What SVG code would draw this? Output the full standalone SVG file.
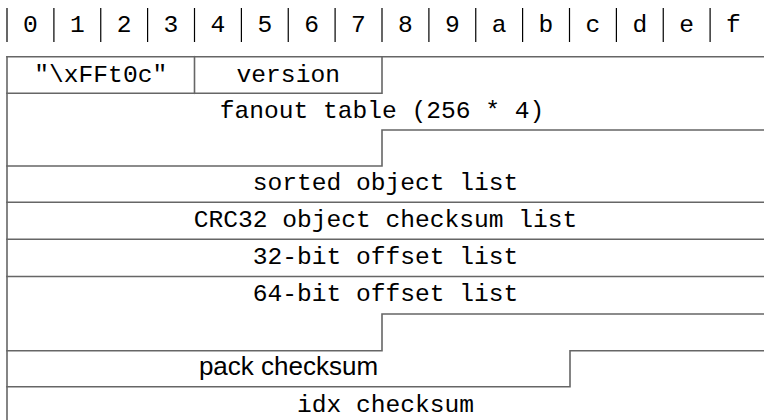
<svg xmlns="http://www.w3.org/2000/svg" width="764" height="420" viewBox="0 0 764 420">
<style>
.hb{stroke:#000;stroke-width:1.2;fill:none}
.ln{stroke:#666;stroke-width:1.6;fill:none;stroke-linecap:square}
.tt{font-family:"Liberation Mono","DejaVu Sans Mono",monospace;font-size:24.6px;fill:#000;text-anchor:middle}
.ss{font-family:"Liberation Sans","DejaVu Sans",sans-serif;font-size:26px;fill:#000;text-anchor:middle}
</style>
<rect width="764" height="420" fill="#fff"/>
<g id="header">
  <g class="hb">
    <line x1="7" y1="8" x2="7" y2="42"/>
    <line x1="53.9" y1="8" x2="53.9" y2="42"/>
    <line x1="100.75" y1="8" x2="100.75" y2="42"/>
    <line x1="147.6" y1="8" x2="147.6" y2="42"/>
    <line x1="194.5" y1="8" x2="194.5" y2="42"/>
    <line x1="241.4" y1="8" x2="241.4" y2="42"/>
    <line x1="288.25" y1="8" x2="288.25" y2="42"/>
    <line x1="335.1" y1="8" x2="335.1" y2="42"/>
    <line x1="382" y1="8" x2="382" y2="42"/>
    <line x1="428.9" y1="8" x2="428.9" y2="42"/>
    <line x1="475.75" y1="8" x2="475.75" y2="42"/>
    <line x1="522.6" y1="8" x2="522.6" y2="42"/>
    <line x1="569.5" y1="8" x2="569.5" y2="42"/>
    <line x1="616.4" y1="8" x2="616.4" y2="42"/>
    <line x1="663.25" y1="8" x2="663.25" y2="42"/>
    <line x1="710.1" y1="8" x2="710.1" y2="42"/>
  </g>
  <g class="tt">
    <text x="30.4" y="31.5">0</text>
    <text x="77.3" y="31.5">1</text>
    <text x="124.2" y="31.5">2</text>
    <text x="171" y="31.5">3</text>
    <text x="217.9" y="31.5">4</text>
    <text x="264.8" y="31.5">5</text>
    <text x="311.7" y="31.5">6</text>
    <text x="358.5" y="31.5">7</text>
    <text x="405.4" y="31.5">8</text>
    <text x="452.3" y="31.5">9</text>
    <text x="499.2" y="31.5">a</text>
    <text x="546" y="31.5">b</text>
    <text x="592.9" y="31.5">c</text>
    <text x="639.8" y="31.5">d</text>
    <text x="686.7" y="31.5">e</text>
    <text x="733.5" y="31.5">f</text>
  </g>
</g>
<g id="connectors" class="ln">
  <line x1="7" y1="56.7" x2="7" y2="421"/>
  <line x1="7" y1="56.7" x2="765" y2="56.7"/>
  <line x1="194.5" y1="56.7" x2="194.5" y2="93.3"/>
  <polyline points="382,56.7 382,93.3 7,93.3"/>
  <polyline points="765,130 382,130 382,166 7,166"/>
  <line x1="7" y1="202.3" x2="765" y2="202.3"/>
  <line x1="7" y1="239.3" x2="765" y2="239.3"/>
  <line x1="7" y1="276.5" x2="765" y2="276.5"/>
  <polyline points="765,314 382,314 382,350.7 7,350.7"/>
  <polyline points="765,350.7 570,350.7 570,386.7 7,386.7"/>
</g>
<g id="magic"><text class="tt" x="100.75" y="81.5">"\xFFt0c"</text></g>
<g id="version"><text class="tt" x="288.25" y="81.5">version</text></g>
<g id="fanout"><text class="tt" x="382" y="118">fanout table (256 * 4)</text></g>
<g id="sorted"><text class="tt" x="385.5" y="189.5">sorted object list</text></g>
<g id="crc32"><text class="tt" x="385.5" y="226.7">CRC32 object checksum list</text></g>
<g id="off32"><text class="tt" x="385.5" y="263.7">32-bit offset list</text></g>
<g id="off64"><text class="tt" x="385.5" y="301">64-bit offset list</text></g>
<g id="pack"><text class="ss" x="288.5" y="375">pack checksum</text></g>
<g id="idx"><text class="tt" x="385.5" y="411.8">idx checksum</text></g>
</svg>
